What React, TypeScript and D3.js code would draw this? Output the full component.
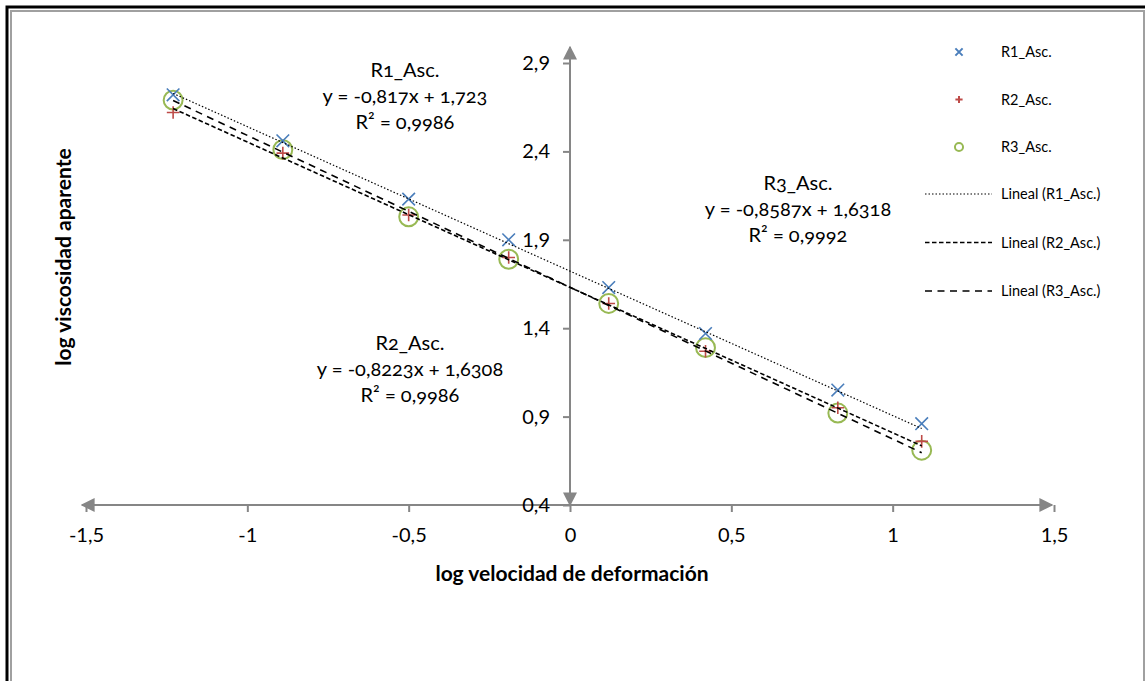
import React, { useRef, useEffect } from 'react'
import * as d3 from 'd3'

// log velocidad de deformación (x) and log viscosidad aparente for each run
const xVals = [-1.23, -0.89, -0.50, -0.19, 0.12, 0.42, 0.83, 1.09]
const r1Vals = [2.72, 2.46, 2.13, 1.90, 1.63, 1.37, 1.05, 0.86]
const r2Vals = [2.62, 2.39, 2.04, 1.80, 1.54, 1.27, 0.95, 0.76]
const r3Vals = [2.69, 2.41, 2.03, 1.79, 1.54, 1.29, 0.92, 0.71]

const seriesNames = ['R1_Asc.', 'R2_Asc.', 'R3_Asc.']
const slopes = [-0.817, -0.8223, -0.8587]
const intercepts = [1.723, 1.6308, 1.6318]
const equations = ['y = -0,817x + 1,723', 'y = -0,8223x + 1,6308', 'y = -0,8587x + 1,6318']
const r2Labels = ['R² = 0,9986', 'R² = 0,9986', 'R² = 0,9992']

const xTicks = [-1.5, -1, -0.5, 0, 0.5, 1, 1.5]
const yTicks = [0.4, 0.9, 1.4, 1.9, 2.4, 2.9]

const colors = ['#4a7ebb', '#be4b48', '#98b954']
const dashes = ['1.5,2', '4.5,2.5', '7,5.5']
const FONT = 'Lato, "Open Sans", sans-serif'

const App = () => {
    const svgRef = useRef<SVGSVGElement>(null)

    useEffect(() => {
        const svg = d3.select(svgRef.current)
        svg.selectAll('*').remove()

        // outer frame
        svg.append('rect').attr('x', 7).attr('y', 7).attr('width', 1160).attr('height', 700)
            .attr('fill', 'none').attr('stroke', '#000').attr('stroke-width', 3)
        svg.append('rect').attr('x', 11).attr('y', 11).attr('width', 1133).attr('height', 700)
            .attr('fill', 'none').attr('stroke', '#a0a0a0').attr('stroke-width', 2)

        const x = d3.scaleLinear().domain([-1.5, 1.5]).range([86, 1054])
        const y = d3.scaleLinear().domain([0.4, 2.9]).range([505, 63])
        const fmt = (d: number) => String(d).replace('.', ',')

        const defs = svg.append('defs')
        defs.append('marker').attr('id', 'arrow').attr('viewBox', '0 0 10 10')
            .attr('refX', 9).attr('refY', 5).attr('markerWidth', 7).attr('markerHeight', 7)
            .attr('markerUnits', 'strokeWidth').attr('orient', 'auto-start-reverse')
            .append('path').attr('d', 'M0,0L10,5L0,10Z').attr('fill', '#868686')

        // x axis
        const xAxis = svg.append('g')
            .attr('transform', `translate(0, ${y(0.4)})`)
            .call(d3.axisBottom(x).tickValues(xTicks).tickSize(7).tickPadding(16).tickFormat(d => fmt(+d)))
        xAxis.select('.domain').remove()
        xAxis.selectAll('line').attr('stroke', '#868686').attr('stroke-width', 2)
        xAxis.selectAll('text').attr('font-family', FONT).attr('font-size', 20).attr('fill', '#000')
        svg.append('line').attr('x1', x(-1.5) - 4).attr('x2', x(1.5) - 2)
            .attr('y1', y(0.4)).attr('y2', y(0.4))
            .attr('stroke', '#868686').attr('stroke-width', 2)
            .attr('marker-start', 'url(#arrow)').attr('marker-end', 'url(#arrow)')

        // y axis
        const yAxis = svg.append('g')
            .attr('transform', `translate(${x(0)}, 0)`)
            .call(d3.axisLeft(y).tickValues(yTicks).tickSize(7).tickPadding(13).tickFormat(d => fmt(+d)))
        yAxis.select('.domain').remove()
        yAxis.selectAll('line').attr('stroke', '#868686').attr('stroke-width', 2)
        yAxis.selectAll('text').attr('font-family', FONT).attr('font-size', 20).attr('fill', '#000')
        svg.append('line').attr('x1', x(0)).attr('x2', x(0))
            .attr('y1', y(0.4)).attr('y2', y(2.9) - 16)
            .attr('stroke', '#868686').attr('stroke-width', 2)
            .attr('marker-start', 'url(#arrow)').attr('marker-end', 'url(#arrow)')

        // axis titles
        svg.append('text').attr('x', 572).attr('y', 581).attr('text-anchor', 'middle')
            .attr('font-family', FONT).attr('font-size', 21).attr('font-weight', 'bold')
            .text('log velocidad de deformación')
        svg.append('text').attr('transform', `translate(71, 257) rotate(-90)`).attr('text-anchor', 'middle')
            .attr('font-family', FONT).attr('font-size', 21).attr('font-weight', 'bold')
            .text('log viscosidad aparente')

        // markers
        const shapes = [
            (g: any, s: number) => g.append('path').attr('d', `M${-s},${-s}L${s},${s}M${-s},${s}L${s},${-s}`),
            (g: any, s: number) => g.append('path').attr('d', `M${-s},0H${s}M0,${-s}V${s}`),
            (g: any, s: number) => g.append('circle').attr('r', s * 1.5).attr('fill', 'none'),
        ]
        const allVals = [r1Vals, r2Vals, r3Vals]
        ;[2, 1, 0].forEach(si => {
            allVals[si].forEach((v, i) => {
                const g = svg.append('g').attr('transform', `translate(${x(xVals[i])}, ${y(v)})`)
                shapes[si](g, 6.3).attr('stroke', colors[si]).attr('stroke-width', si === 2 ? 2 : 1.6)
            })
        })

        // trend lines
        const x0 = d3.min(xVals) as number
        const x1 = d3.max(xVals) as number
        slopes.forEach((m, si) => {
            svg.append('line')
                .attr('x1', x(x0)).attr('y1', y(m * x0 + intercepts[si]))
                .attr('x2', x(x1)).attr('y2', y(m * x1 + intercepts[si]))
                .attr('stroke', '#000').attr('stroke-width', si === 0 ? 1.2 : 1.6)
                .attr('stroke-dasharray', dashes[si])
        })

        // equation labels
        const labelPos = [[405, 77], [410, 350], [798, 190]]
        labelPos.forEach(([lx, ly], si) => {
            const t = svg.append('text').attr('x', lx).attr('y', ly).attr('text-anchor', 'middle')
                .attr('font-family', FONT).attr('font-size', 20)
                .style('font-variant-numeric', 'oldstyle-nums')
            ;[seriesNames[si], equations[si], r2Labels[si]].forEach((s, k) => {
                t.append('tspan').attr('x', lx).attr('dy', k === 0 ? 0 : 26).text(s)
            })
        })

        // legend
        const legend = svg.append('g').attr('font-family', FONT).attr('font-size', 14.5)
        seriesNames.forEach((name, si) => {
            const ly = 52 + si * 47.5
            const g = legend.append('g').attr('transform', `translate(959, ${ly})`)
            shapes[si](g, si === 2 ? 2.7 : 3.6).attr('stroke', colors[si]).attr('stroke-width', 2)
            legend.append('text').attr('x', 1001).attr('y', ly + 5).text(name)
        })
        seriesNames.forEach((name, si) => {
            const ly = 194 + si * 48.5
            legend.append('line').attr('x1', 925).attr('x2', 992).attr('y1', ly).attr('y2', ly)
                .attr('stroke', '#000').attr('stroke-width', si === 0 ? 1.2 : 1.6)
                .attr('stroke-dasharray', dashes[si])
            legend.append('text').attr('x', 1001).attr('y', ly + 5).text(`Lineal (${name})`)
        })
    }, [])

    return (
        <svg ref={svgRef} width={1145} height={681}
            style={{ position: 'absolute', left: 0, top: 0, background: '#fff' }}></svg>
    )
}

export default App
